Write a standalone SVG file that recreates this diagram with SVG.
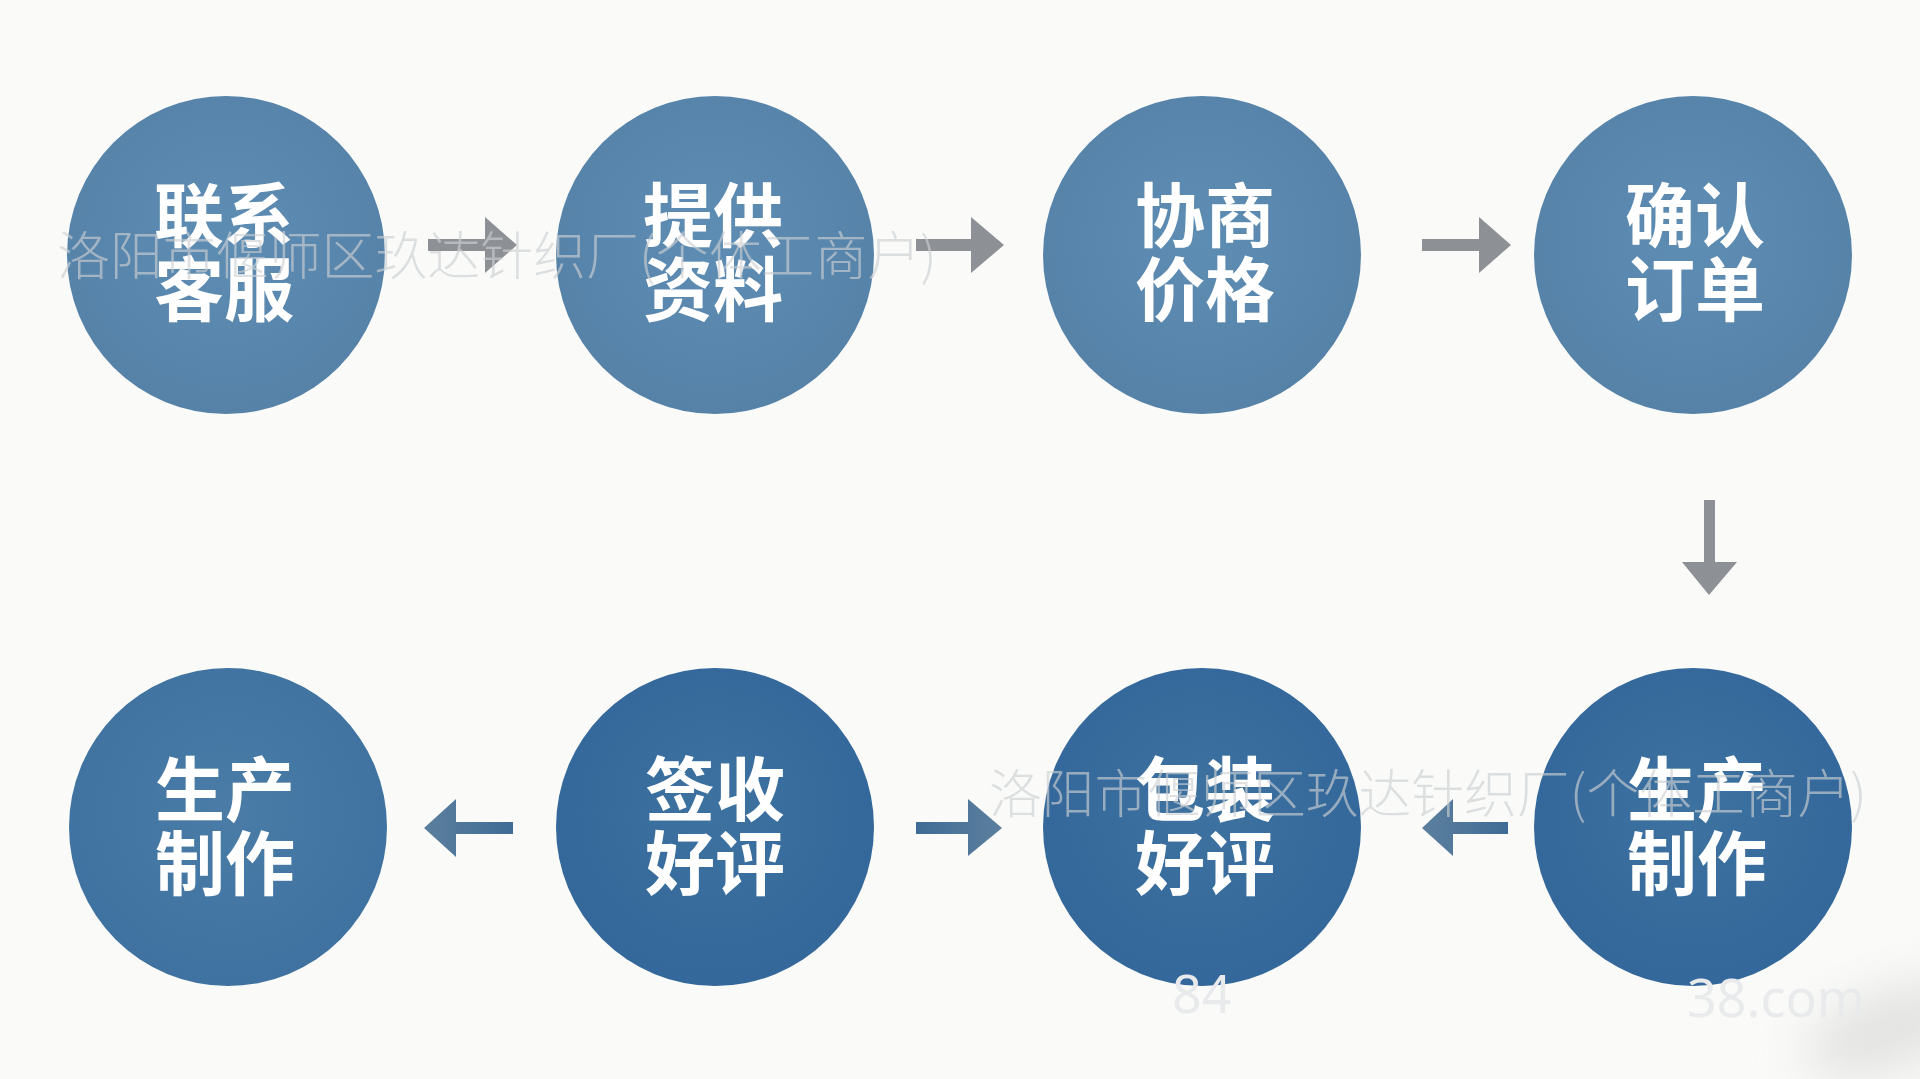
<svg xmlns="http://www.w3.org/2000/svg" width="1920" height="1079" viewBox="0 0 1920 1079">
  <defs>
    <radialGradient id="gTop" cx="50%" cy="45%" r="55%">
      <stop offset="0" stop-color="#5e8db3"/>
      <stop offset="1" stop-color="#5682a8"/>
    </radialGradient>
    <radialGradient id="gBot" cx="50%" cy="45%" r="55%">
      <stop offset="0" stop-color="#3d72a0"/>
      <stop offset="1" stop-color="#34679a"/>
    </radialGradient>
    <radialGradient id="gBot1" cx="50%" cy="45%" r="55%">
      <stop offset="0" stop-color="#4a7ca7"/>
      <stop offset="1" stop-color="#3f72a0"/>
    </radialGradient>
    <linearGradient id="gArrowBL" x1="0" y1="0" x2="1" y2="0">
      <stop offset="0" stop-color="#5c7f9e"/>
      <stop offset="1" stop-color="#3f6c95"/>
    </linearGradient>
    <linearGradient id="gArrowBR" x1="0" y1="0" x2="1" y2="0">
      <stop offset="0" stop-color="#3f6c95"/>
      <stop offset="1" stop-color="#5c7f9e"/>
    </linearGradient>
    <filter id="blur" x="-50%" y="-50%" width="200%" height="200%">
      <feGaussianBlur stdDeviation="25"/>
    </filter>
  </defs>
  <style>
    .lbl { font-family: "Noto Sans CJK SC", "Noto Sans", sans-serif; font-weight: 700; font-size: 70px; fill: #ffffff; text-anchor: middle; dominant-baseline: central; }
    .wm { font-family: "Noto Sans CJK SC", "Noto Sans", sans-serif; font-weight: 300; font-size: 52px; fill: #cdd0d3; fill-opacity: 0.65; dominant-baseline: central; }
    .wm2 { font-family: "Noto Sans", "Noto Sans CJK SC", sans-serif; font-weight: 400; font-size: 52px; fill: #e8eaec; dominant-baseline: central; }
    .ag { fill: #8d9094; }
  </style>

  <rect x="0" y="0" width="1920" height="1079" fill="#fafbf9"/>
  <ellipse cx="1890" cy="1030" rx="90" ry="40" fill="#d9dad8" opacity="0.7" filter="url(#blur)" transform="rotate(-20 1890 1030)"/>

  <g id="connectors">
    <path class="ag" d="M428,239 H485 V217 L517,245 L485,273 V251 H428 Z"/>
    <path class="ag" d="M916,239 H971 V217 L1004,245 L971,273 V251 H916 Z"/>
    <path class="ag" d="M1422,239 H1479 V217 L1511,245 L1479,273 V251 H1422 Z"/>
    <path class="ag" d="M1704,500 H1715 V562 H1737 L1709,595 L1682,562 H1704 Z"/>
    <path fill="url(#gArrowBL)" d="M1508,822 H1453 V799 L1422,828 L1453,856 V834 H1508 Z"/>
    <path fill="url(#gArrowBR)" d="M916,822 H968 V799 L1002,828 L968,856 V834 H916 Z"/>
    <path fill="url(#gArrowBL)" d="M513,822 H456 V799 L424,828 L456,857 V834 H513 Z"/>
  </g>

  <g id="n1">
    <circle cx="226" cy="255" r="159" fill="url(#gTop)"/>
    <text class="lbl" x="224" y="211">联系</text>
    <text class="lbl" x="224" y="285">客服</text>
  </g>
  <g id="n2">
    <circle cx="715" cy="255" r="159" fill="url(#gTop)"/>
    <text class="lbl" x="713" y="211">提供</text>
    <text class="lbl" x="713" y="285">资料</text>
  </g>
  <g id="n3">
    <circle cx="1202" cy="255" r="159" fill="url(#gTop)"/>
    <text class="lbl" x="1205" y="211">协商</text>
    <text class="lbl" x="1205" y="285">价格</text>
  </g>
  <g id="n4">
    <circle cx="1693" cy="255" r="159" fill="url(#gTop)"/>
    <text class="lbl" x="1695" y="211">确认</text>
    <text class="lbl" x="1695" y="285">订单</text>
  </g>
  <g id="n5">
    <circle cx="1693" cy="827" r="159" fill="url(#gBot)"/>
    <text class="lbl" x="1697" y="785">生产</text>
    <text class="lbl" x="1697" y="859">制作</text>
  </g>
  <g id="n6">
    <circle cx="1202" cy="827" r="159" fill="url(#gBot)"/>
    <text class="lbl" x="1205" y="785">包装</text>
    <text class="lbl" x="1205" y="859">好评</text>
  </g>
  <g id="n7">
    <circle cx="715" cy="827" r="159" fill="url(#gBot)"/>
    <text class="lbl" x="715" y="785">签收</text>
    <text class="lbl" x="715" y="859">好评</text>
  </g>
  <g id="n8">
    <circle cx="228" cy="827" r="159" fill="url(#gBot1)"/>
    <text class="lbl" x="225" y="785">生产</text>
    <text class="lbl" x="225" y="859">制作</text>
  </g>

  <g id="watermarks">
    <text class="wm" x="57" y="252" textLength="880" lengthAdjust="spacingAndGlyphs">洛阳市偃师区玖达针织厂(个体工商户)</text>
    <text class="wm" x="989" y="790" textLength="878" lengthAdjust="spacingAndGlyphs">洛阳市偃师区玖达针织厂(个体工商户)</text>
    <text class="wm2" x="1172" y="992">84</text>
    <text class="wm2" x="1687" y="996">38.com</text>
  </g>
</svg>
